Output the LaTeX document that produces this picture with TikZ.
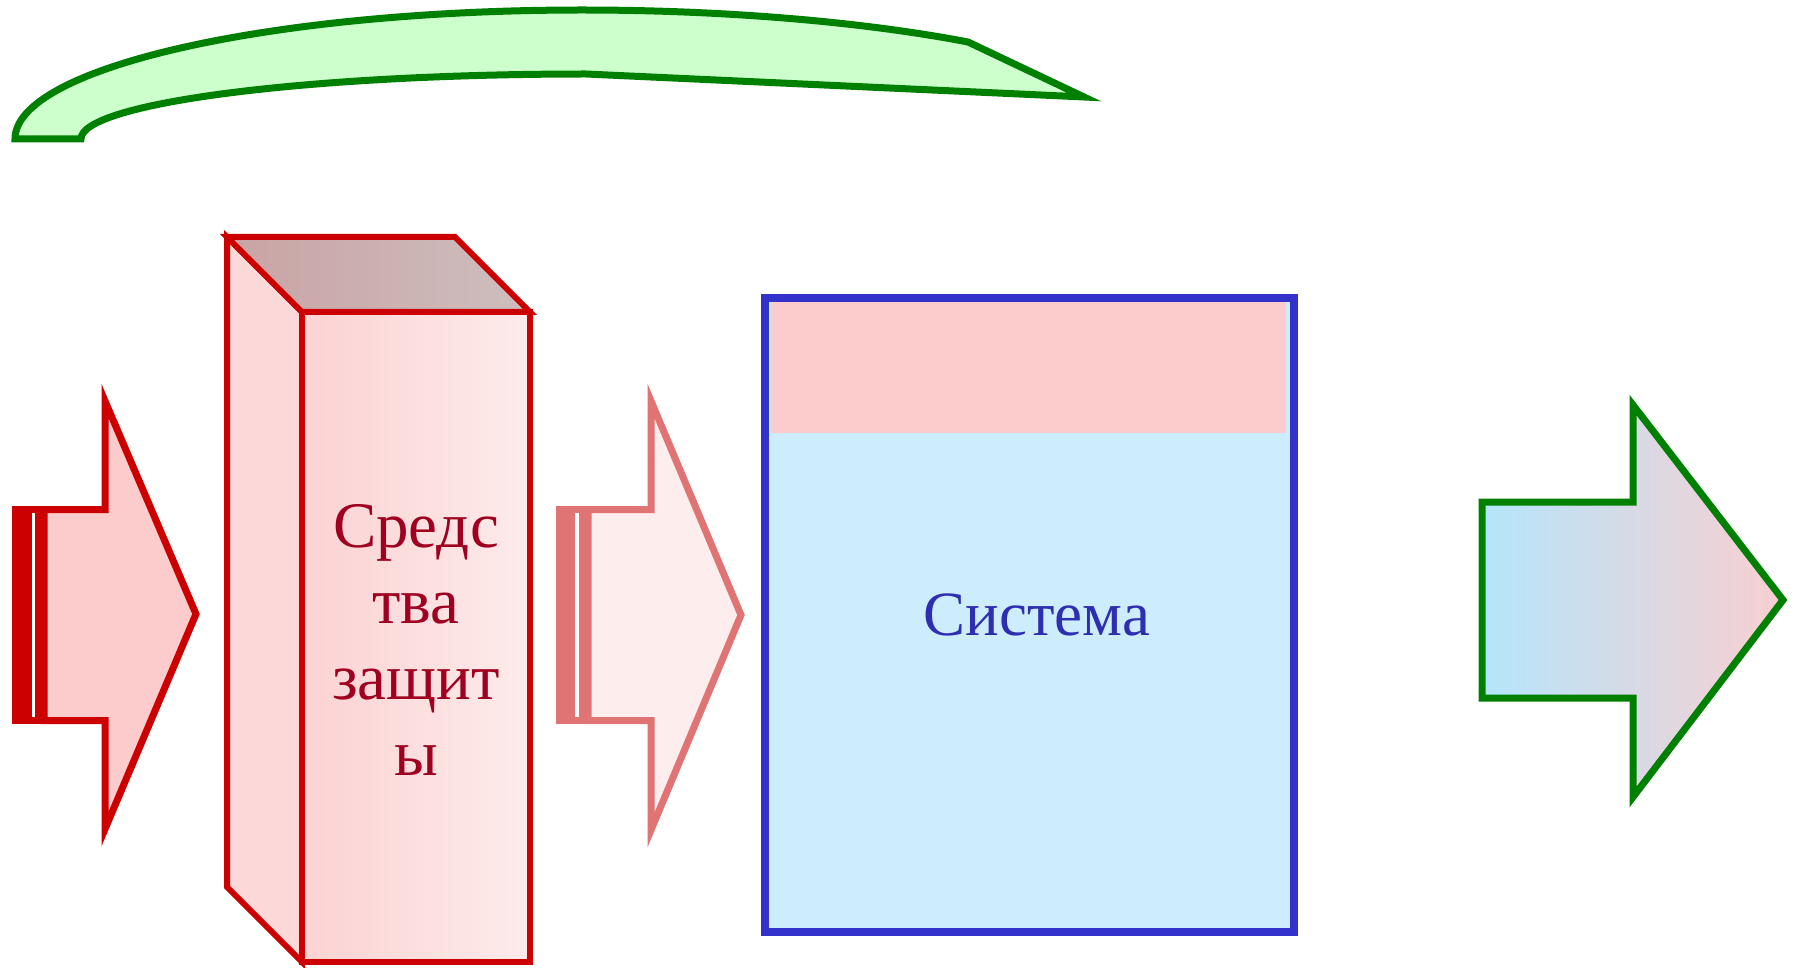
\documentclass[tikz,border=0pt]{standalone}
\usepackage{fontspec}
\setmainfont{Liberation Serif}

\definecolor{arrowred}{HTML}{CC0000}
\definecolor{arrowpink}{HTML}{FCCBCB}
\definecolor{softred}{HTML}{E07474}
\definecolor{softpink}{HTML}{FDEDED}
\definecolor{leafgreen}{HTML}{008000}
\definecolor{mintfill}{HTML}{CCFFCC}
\definecolor{skyfill}{HTML}{B5E5FB}
\definecolor{rosefill}{HTML}{F9CFD0}
\definecolor{boxblue}{HTML}{3333CC}
\definecolor{boxfill}{HTML}{CDEDFD}
\definecolor{bandpink}{HTML}{FCCBCB}
\definecolor{faceleft}{HTML}{FCD2D2}
\definecolor{faceright}{HTML}{FDEBEB}
\definecolor{sideface}{HTML}{FCD8D8}
\definecolor{topleft}{HTML}{C9A3A4}
\definecolor{topright}{HTML}{CEBEBE}
\definecolor{crimson}{HTML}{A00020}
\definecolor{navytext}{HTML}{2E2EB2}

\tikzset{
  redarrow/.style={draw=arrowred, fill=arrowpink, line width=3.5pt, line join=miter},
  softarrow/.style={draw=softred, fill=softpink, line width=3.5pt, line join=miter},
  greenarrow/.style={draw=leafgreen, line width=3.5pt, line join=miter,
    left color=skyfill, right color=rosefill},
  cubeedge/.style={draw=arrowred, line width=3pt, line join=miter},
  bigtext/.style={font=\fontsize{32.5}{38}\selectfont, align=center, inner sep=0pt}
}

\begin{document}
\begin{tikzpicture}[x=0.5pt, y=-0.5pt]
\useasboundingbox (0,0) rectangle (1794,968);

% curved arrow at the top
\draw[draw=leafgreen, fill=mintfill, line width=3.5pt, line join=miter]
  (15,139) .. controls (15,68) and (269,10) .. (582,10)
  .. controls (726,10) and (864,22) .. (968,42)
  -- (1084,97) -- (586,74)
  .. controls (307,74) and (81,103) .. (81,139) -- cycle;

% striped input arrow
\fill[arrowred] (12,506) rectangle (48,724);
\fill[white] (32,513) rectangle (35,717);
\draw[redarrow] (44,509.5) -- (105,509.5) -- (105,401) -- (196,614)
  -- (105,829) -- (105,720.5) -- (44,720.5) -- cycle;

% protection block
\path[cubeedge, fill=sideface] (227,237) -- (302,312) -- (302,962) -- (227,887) -- cycle;
\path[cubeedge, left color=topleft, right color=topright]
  (227,237) -- (455,237) -- (530,312) -- (302,312) -- cycle;
\path[cubeedge, left color=faceleft, right color=faceright]
  (302,312) rectangle (530,962);
\node[bigtext, text=crimson, anchor=base] (means) at (416,775)
  {Средс\\тва\\защит\\ы};

% striped arrow between block and system
\fill[softred] (556,506) rectangle (592,724);
\fill[white] (575,513) rectangle (579,717);
\draw[softarrow] (588,509.5) -- (651,509.5) -- (651,401) -- (741,615)
  -- (651,830) -- (651,720.5) -- (588,720.5) -- cycle;

% system box
\fill[boxfill] (765,298) rectangle (1294,932);
\fill[bandpink] (771,302) rectangle (1286,433);
\draw[boxblue, line width=4pt] (765,298) rectangle (1294,932);
\node[font=\fontsize{31.5}{38}\selectfont, text=navytext, anchor=base, inner sep=0pt]
  (system) at (1037,635) {Система};

% output arrow
\path[greenarrow] (1482,502) -- (1633,502) -- (1633,405) -- (1783,600)
  -- (1633,797) -- (1633,698) -- (1482,698) -- cycle;
\end{tikzpicture}
\end{document}
